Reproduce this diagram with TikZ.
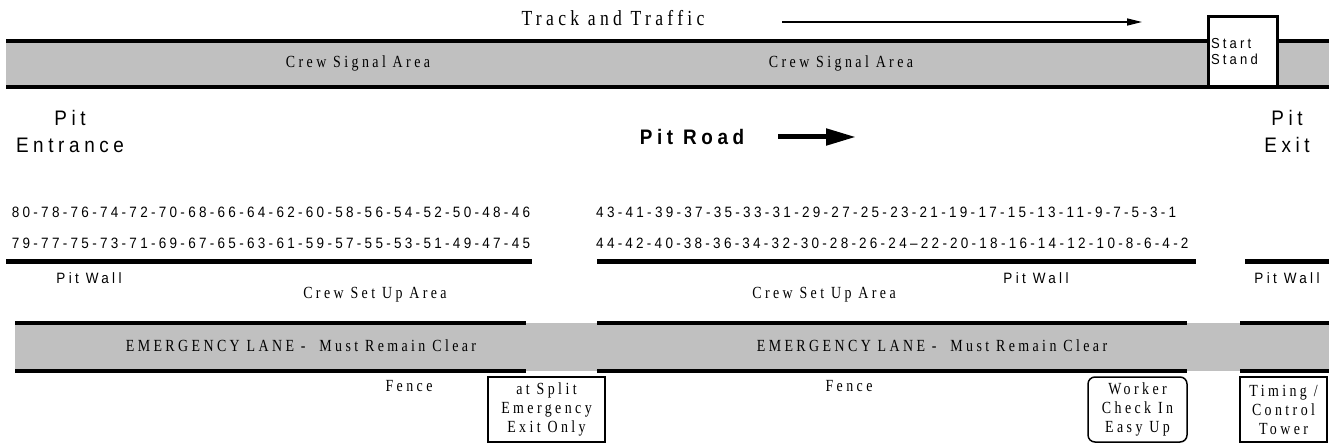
\documentclass[tikz,border=0pt]{standalone}
\usepackage{fontspec}
\usetikzlibrary{arrows.meta}
\newfontfamily\sanssp[LetterSpace=22,FakeStretch=0.9]{Liberation Sans}
\newfontfamily\serifsp[LetterSpace=20,FakeStretch=0.82]{Liberation Serif}
\definecolor{lanegray}{HTML}{C0C0C0}
\newcommand\nsp{\hskip 3pt}
\tikzset{
  edgeline/.style={line width=4pt},
  wallline/.style={line width=5pt},
  laneline/.style={line width=3.5pt},
  serlab/.style={inner sep=0pt, font=\serifsp\fontsize{17}{20}\selectfont},
  sanlab/.style={inner sep=0pt, font=\sanssp\fontsize{15}{18}\selectfont},
  biglab/.style={inner sep=0pt, align=center, font=\sanssp\fontsize{21}{27}\selectfont},
  boxlab/.style={draw, line width=2.5pt, inner sep=0pt, align=center, minimum height=65pt,
    font=\serifsp\fontsize{17}{19}\selectfont},
}
\begin{document}
\begin{tikzpicture}[x=1pt,y=-1pt]
\useasboundingbox (0,0) rectangle (1329,443);

% top band
\fill[lanegray] (6,41) rectangle (1329,87);
\draw[edgeline] (6,41) -- (1208,41) (1277,41) -- (1329,41);
\draw[edgeline] (6,87) -- (1329,87);
\node[draw, line width=3pt, fill=white, minimum width=69pt, minimum height=70pt,
  text width=63pt, inner xsep=3pt, inner ysep=0pt, align=left,
  font=\sanssp\fontsize{14.5}{16}\selectfont] (start) at (1242.5,52) {Start\\Stand};

\node[inner sep=0pt, font=\serifsp\fontsize{21.5}{24}\selectfont] (track) at (613,18) {Track and Traffic};
\coordinate (tt1) at (782,22);
\coordinate (tt2) at (1142,22);
\draw[line width=1.5pt, -{Triangle[length=15pt,width=7pt]}] (tt1) -- (tt2);

\node[serlab] (csa1) at (358,63) {Crew Signal Area};
\node[serlab] (csa2) at (841,63) {Crew Signal Area};

\node[biglab] (entr) at (70,131.5) {Pit\\Entrance};
\node[biglab] (exit) at (1287,131.5) {Pit\\Exit};
\node[inner sep=0pt, font=\sanssp\bfseries\fontsize{21}{24}\selectfont] (road) at (692,137) {Pit Road};
\coordinate (ra1) at (778,137);
\coordinate (ra2) at (856,137);
\draw[line width=5pt, -{Triangle[length=30pt,width=16pt]}] (ra1) -- (ra2);

% pit numbers
\node[sanlab] (odd1) at (271,212) {80-78-76-74-72-70-68-66-64-62-60-58-56-54-52-50-48-46};
\node[sanlab] (even1) at (271,243) {79-77-75-73-71-69-67-65-63-61-59-57-55-53-51-49-47-45};
\node[sanlab, anchor=west] (odd2) at (596,212) {43-41-39-37-35-33-31-29-27-25-23-21-19-17-15-13-11-9-\nsp7-\nsp5-\nsp3-1};
\node[sanlab, anchor=west] (even2) at (596,243) {44-\nsp42-40-\nsp38-36-\nsp34-32-\nsp30-\nsp28-\nsp26-24–22-\nsp20-18-16-\nsp14-12-10-\nsp8-\nsp6-\nsp4-\nsp2};

% pit walls
\draw[wallline] (6,262) -- (532,262);
\draw[wallline] (597,262) -- (1196,262);
\draw[wallline] (1245,262) -- (1329,262);
\node[sanlab] (pw1) at (89,278) {Pit Wall};
\node[sanlab] (pw2) at (1036,278) {Pit Wall};
\node[sanlab] (pw3) at (1287,278) {Pit Wall};

\node[serlab] (csu1) at (375,295) {Crew Set Up Area};
\node[serlab] (csu2) at (824,295) {Crew Set Up Area};

% emergency lane
\fill[lanegray] (15,323) rectangle (1329,371);
\draw[laneline] (15,323) -- (526,323) (597,323) -- (1187,323) (1240,323) -- (1329,323);
\draw[laneline] (15,371) -- (526,371) (597,371) -- (1187,371) (1240,371) -- (1329,371);
\node[serlab] (el1) at (301,346) {EMERGENCY LANE -~ Must Remain Clear};
\node[serlab] (el2) at (932,346) {EMERGENCY LANE -~ Must Remain Clear};

\node[serlab] (f1) at (409,386) {Fence};
\node[serlab] (f2) at (849,386) {Fence};

\node[boxlab, minimum width=117pt] (split) at (546.5,409.5) {at Split\\Emergency\\Exit Only};
\node[boxlab, line width=1.5pt, rounded corners=7pt, minimum width=99pt] (worker) at (1137.5,409.5) {Worker\\Check In\\Easy Up};
\node[boxlab, minimum width=87pt] (timing) at (1283.5,409.5) {Timing /\\Control\\Tower};
\end{tikzpicture}
\end{document}
